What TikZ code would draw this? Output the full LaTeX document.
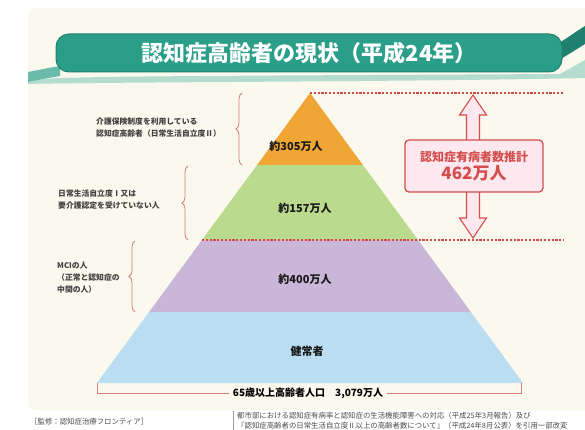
\documentclass[tikz,border=0pt]{standalone}
\usepackage{fontspec}
\setmainfont{Noto Sans CJK JP}
\usetikzlibrary{decorations.pathreplacing}
\definecolor{cream}{RGB}{251,248,238}
\definecolor{tealm}{RGB}{42,158,136}
\definecolor{teald}{RGB}{30,128,110}
\definecolor{teall}{RGB}{150,210,196}
\definecolor{porange}{RGB}{240,166,52}
\definecolor{pgreen}{RGB}{186,218,142}
\definecolor{ppurple}{RGB}{202,182,216}
\definecolor{pblue}{RGB}{186,221,241}
\definecolor{dotred}{RGB}{214,72,72}
\definecolor{bracered}{RGB}{214,128,118}
\definecolor{boxfill}{RGB}{252,232,238}
\definecolor{boxred}{RGB}{212,78,78}
\tikzset{
  lvl/.style={font=\bfseries\fontsize{11}{12}\selectfont, text=black!90},
  sidelabel/.style={font=\bfseries\fontsize{7.8}{12}\selectfont, text=black!75, align=left, anchor=west, inner sep=0pt},
  bracedeco/.style={draw=bracered, line width=0.8pt, decorate, decoration={brace, amplitude=6pt}},
  dotline/.style={draw=dotred, line width=1.6pt, dash pattern=on 2.2pt off 1.6pt},
  foot/.style={font=\fontsize{7.4}{10}\selectfont, text=black!70, anchor=west, inner sep=0pt}
}
\begin{document}
\begin{tikzpicture}[x=1pt,y=-1pt]
\useasboundingbox (0,0) rectangle (585,430);
\clip (0,0) rectangle (585,430);
\fill[white] (0,0) rectangle (585,430);
\fill[cream, rounded corners=8pt] (28,8) rectangle (610,410);

% swooshes
\fill[teall, opacity=0.7] (28,80) .. controls (60,76) and (200,76) .. (560,74) -- (585,60) -- (585,78) .. controls (400,82) and (100,82) .. (28,84) -- cycle;
\fill[teald] (545,50) .. controls (560,44) and (572,34) .. (585,26) -- (585,44) .. controls (572,52) and (560,60) .. (548,66) -- cycle;
\fill[tealm!70] (28,72) .. controls (38,70) and (48,68) .. (60,66) -- (60,76) .. controls (48,78) and (38,80) .. (28,82) -- cycle;

% banner
\node[fill=tealm, draw=teald, line width=1pt, rounded corners=13pt, minimum width=506pt, minimum height=38pt, inner sep=0pt,
      text=white, font=\bfseries\fontsize{22}{24}\selectfont] (title) at (309,53) {認知症高齢者の現状（平成24年）};

% pyramid
\fill[pblue]   (149.1,312) -- (470.9,312) -- (523,383) -- (97,383) -- cycle;
\fill[ppurple] (202,240) -- (418,240) -- (470.9,312) -- (149.1,312) -- cycle;
\fill[pgreen]  (257.1,165) -- (362.9,165) -- (418,240) -- (202,240) -- cycle;
\fill[porange] (310,93) -- (362.9,165) -- (257.1,165) -- cycle;

\node[lvl] (l305) at (296,146) {約305万人};
\node[lvl] (l157) at (305,208) {約157万人};
\node[lvl] (l400) at (305,279) {約400万人};
\node[lvl] (lhealthy) at (307,351) {健常者};

% dotted lines
\coordinate (dtA) at (310,93);
\coordinate (dtB) at (564,93);
\coordinate (dbA) at (202,240);
\coordinate (dbB) at (564,240);
\draw[dotline] (dtA) -- (dtB);
\draw[dotline] (dbA) -- (dbB);

% double arrow
\coordinate (atop) at (473,95);
\coordinate (abot) at (473,238);
\filldraw[fill=boxfill, draw=boxred, line width=1.1pt, line join=miter]
  (atop) -- ++(13.5,20) -- ++(-7,0) -- ++(0,103) -- ++(7,0) -- (abot) -- ++(-13.5,-20) -- ++(7,0) -- ++(0,-103) -- ++(-7,0) -- cycle;
\node[fill=boxfill, draw=boxred, line width=1.3pt, rounded corners=4pt, minimum width=138pt, minimum height=52pt, inner sep=0pt, align=center]
  (est) at (474,166) {{\color{boxred}\bfseries\fontsize{12}{14}\selectfont 認知症有病者数推計}\\[1pt]{\color{boxred}\bfseries\fontsize{17}{18}\selectfont 462万人}};

% braces and side labels
\draw[bracedeco] (242,165) -- (242,93);
\draw[bracedeco] (188,240) -- (188,166);
\draw[bracedeco] (135,312) -- (135,241);
\node[sidelabel] (s1) at (96,128) {介護保険制度を利用している\\認知症高齢者（日常生活自立度Ⅱ）};
\node[sidelabel] (s2) at (58,200) {日常生活自立度Ⅰ又は\\要介護認定を受けていない人};
\node[sidelabel] (s3) at (57,278) {MCIの人\\（正常と認知症の\\中間の人）};

% bottom bracket
\node[font=\bfseries\fontsize{10}{12}\selectfont, text=black] (pop) at (308,393) {65歳以上高齢者人口\quad 3,079万人};
\coordinate (bl) at (97,383);
\coordinate (br) at (521,383);
\draw[bracered, line width=1pt] (bl) |- (pop.west);
\draw[bracered, line width=1pt] (br) |- (pop.east);

% footer
\node[foot] (f1) at (30,422) {［監修：認知症治療フロンティア］};
\coordinate (fb1) at (233,411);
\coordinate (fb2) at (233,430);
\draw[black!40, line width=0.5pt] (fb1) -- (fb2);
\node[foot] (f2) at (237,416) {都市部における認知症有病率と認知症の生活機能障害への対応（平成25年3月報告）及び};
\node[foot] (f3) at (237,426) {『認知症高齢者の日常生活自立度Ⅱ以上の高齢者数について』（平成24年8月公表）を引用一部改変};
\end{tikzpicture}
\end{document}
